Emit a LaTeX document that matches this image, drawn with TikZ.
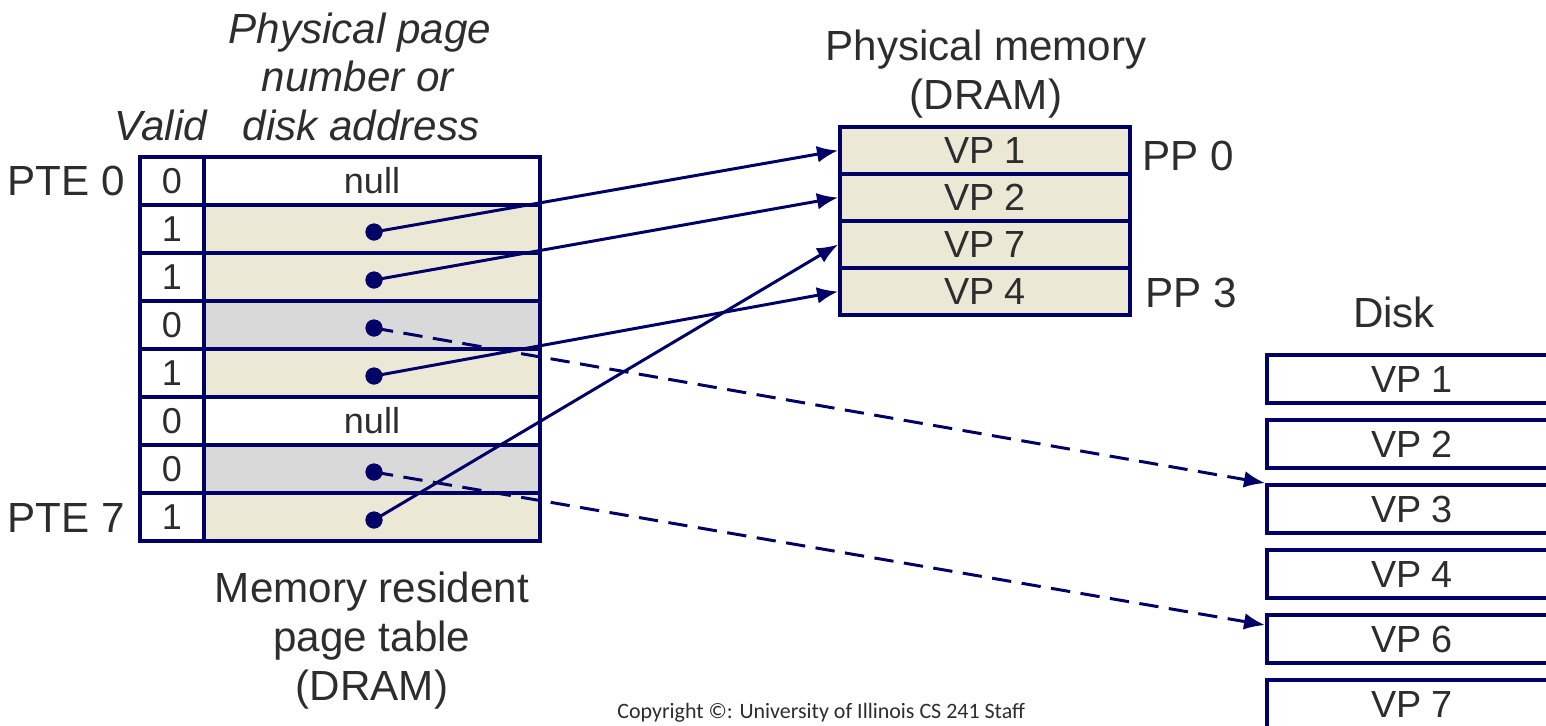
\documentclass[tikz,border=0pt]{standalone}
\usepackage{fontspec}
\setmainfont{Liberation Sans}
\newfontfamily\notefont{Carlito}
\usetikzlibrary{arrows.meta}
\definecolor{navy}{RGB}{0,0,102}
\definecolor{residentfill}{RGB}{235,233,214}
\definecolor{swappedfill}{RGB}{217,217,217}
\definecolor{ink}{RGB}{45,45,45}
\tikzset{
  lbl/.style={inner sep=0pt, anchor=base, text=ink, font=\fontsize{24}{28}\selectfont},
  ilbl/.style={lbl, font=\fontsize{24}{28}\selectfont\itshape},
  boxcell/.style={draw=navy, line width=2.2pt, inner sep=0pt, text=ink},
  validcell/.style={boxcell, fill=white, minimum width=1.28cm, minimum height=0.96cm, font=\fontsize{20.5}{24}\selectfont},
  addrcell/.style={boxcell, minimum width=6.72cm, minimum height=0.96cm, font=\fontsize{20.5}{24}\selectfont},
  memcell/.style={boxcell, fill=residentfill, minimum width=5.8cm, minimum height=0.94cm, font=\fontsize{21.5}{25}\selectfont},
  diskcell/.style={boxcell, fill=white, minimum width=5.8cm, minimum height=0.96cm, font=\fontsize{21.5}{25}\selectfont},
  ptrdot/.style={circle, fill=navy, inner sep=0pt, minimum size=0.34cm},
  link/.style={draw=navy, line width=1.7pt, -{Latex[length=12pt,width=9.5pt]}},
  swaplink/.style={link, dash pattern=on 11pt off 6pt}
}
\begin{document}
\begin{tikzpicture}[x=0.02cm,y=-0.02cm]
\useasboundingbox (0,0) rectangle (1546,725);

% column headings of the page table
\node[ilbl] (hdr1) at (360,43) {Physical page};
\node[ilbl] (hdr2) at (358,91) {number or};
\node[ilbl] (hdr3) at (361,140) {disk address};
\node[ilbl] (hvalid) at (161,140) {Valid};

% page table entries
\foreach \i/\v/\f/\t in {0/0/white/null, 1/1/residentfill/, 2/1/residentfill/,
    3/0/swappedfill/, 4/1/residentfill/, 5/0/white/null, 6/0/swappedfill/, 7/1/residentfill/}{
  \node[addrcell, fill=\f] (a\i) at (372,{181+48*\i}) {\t};
  \node[validcell] (v\i) at (172,{181+48*\i}) {\v};
}
\node[lbl, anchor=base east] (pte0) at (125,195) {PTE 0};
\node[lbl, anchor=base east] (pte7) at (125,532) {PTE 7};

\node[lbl] (tcap1) at (372,602) {Memory resident};
\node[lbl] (tcap2) at (372,651) {page table};
\node[lbl] (tcap3) at (372,700) {(DRAM)};

% physical memory
\node[lbl] (mcap1) at (986,60) {Physical memory};
\node[lbl] (mcap2) at (986,109) {(DRAM)};
\node[memcell] (m1) at (985,150.5) {VP 1};
\node[memcell] (m2) at (985,197.5) {VP 2};
\node[memcell] (m3) at (985,244.5) {VP 7};
\node[memcell] (m4) at (985,291.5) {VP 4};
\node[lbl, anchor=base west] (pp0) at (1142,170) {PP 0};
\node[lbl, anchor=base west] (pp3) at (1145,307) {PP 3};

% disk
\node[lbl] (dcap) at (1394,327) {Disk};
\foreach \j/\n in {1/1, 2/2, 3/3, 4/4, 5/6, 6/7}{
  \node[diskcell] (d\n) at (1412,{379+65*(\j-1)}) {VP \n};
}

% pointers held in the page table
\foreach \r in {1,2,3,4,6,7}{
  \node[ptrdot] (p\r) at (374,{184+48*\r}) {};
}
\draw[link] (p1.center) -- (m1.west);
\draw[link] (p2.center) -- (m2.west);
\draw[link] (p4.center) -- (m4.west);
\draw[link] (p7.center) -- (m3.west);
\draw[swaplink] (p3.center) -- (d3.north west);
\draw[swaplink] (p6.center) -- ([yshift=-0.24cm]d6.north west);
\foreach \r in {1,2,3,4,6,7}{
  \fill[navy] (p\r) circle (0.17cm);
}

\node[inner sep=0pt, anchor=base west, text=ink, font=\notefont\fontsize{12.5}{15}\selectfont] (copy) at (617,718)
  {Copyright ©: University of Illinois CS 241 Staff};
\end{tikzpicture}
\end{document}
